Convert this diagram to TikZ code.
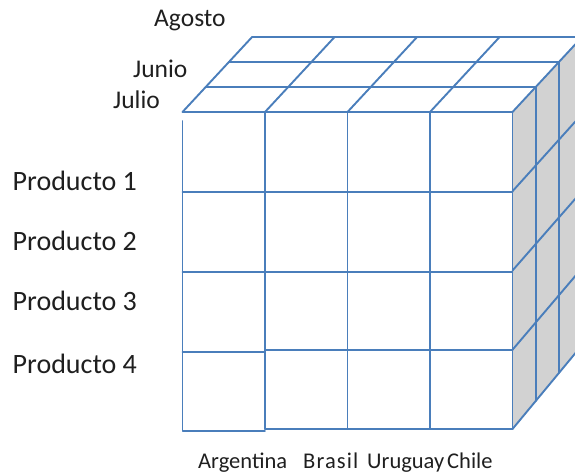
\documentclass[tikz,border=0pt]{standalone}
\usepackage{fontspec}
\setmainfont{Carlito}
\newfontfamily\widefont[LetterSpace=5]{Carlito}
\definecolor{cubeline}{RGB}{74,126,187}
\definecolor{sidegray}{RGB}{210,210,210}
\begin{document}
\begin{tikzpicture}[x=1pt,y=-1pt,
  gridline/.style={draw=cubeline,line width=1.9pt,line cap=round,line join=round},
  prodlabel/.style={anchor=base west,inner sep=0pt,font=\fontsize{28}{31}\selectfont,text=black!88},
  monthlabel/.style={anchor=base west,inner sep=0pt,font=\fontsize{25.5}{29}\selectfont,text=black!88},
  countrylabel/.style={anchor=base west,inner sep=0pt,font=\fontsize{22.5}{27}\selectfont,text=black!88}]
\useasboundingbox (0,0) rectangle (575,475);
\clip (0,0) rectangle (575,475);
% right face
\fill[sidegray] (512.5,112) -- (582.1,37) -- (582.1,345) -- (512.5,429) -- cycle;
\foreach \k in {1,2,3}{
  \draw[gridline] ({512.5+23.2*\k},{112-25*\k}) -- ({512.5+23.2*\k},{429-28*\k});
}
\foreach \i in {1,2,3,4}{
  \draw[gridline] (512.5,{112+\i*317/4}) -- (582.1,{37+\i*308/4});
}
% top face
\foreach \k in {0,1,2,3}{
  \draw[gridline] ({182.5+23.2*\k},{112-25*\k}) -- ({512.5+23.2*\k},{112-25*\k});
}
\foreach \x in {182.5,265,347.5,430,512.5}{
  \draw[gridline] (\x,112) -- ({\x+69.6},37);
}
% front face
\foreach \x in {265,347.5,430,512.5}{
  \draw[gridline] (\x,112) -- (\x,429);
}
\draw[gridline] (182.5,121) -- (182.5,431) -- (265,431);
\draw[gridline] (182.5,192) -- (512.5,192);
\draw[gridline] (182.5,272) -- (512.5,272);
\draw[gridline] (182.5,352) -- (265,352);
\draw[gridline] (265,350) -- (512.5,350);
\draw[gridline] (265,429) -- (512.5,429);
% labels
\node[monthlabel] (agosto) at (154,26) {Agosto};
\node[monthlabel] (junio) at (133,77) {Junio};
\node[monthlabel] (julio) at (113,108) {Julio};
\node[prodlabel] (p1) at (12.5,190) {Producto 1};
\node[prodlabel] (p2) at (12.5,250) {Producto 2};
\node[prodlabel] (p3) at (12.5,310) {Producto 3};
\node[prodlabel] (p4) at (12.5,373) {Producto 4};
\node[countrylabel] (arg) at (198,468) {Argentina};
\node[countrylabel,font=\widefont\fontsize{22.5}{27}\selectfont] (bra) at (303,468) {Brasil};
\node[countrylabel] (uru) at (367,468) {Uruguay};
\node[countrylabel] (chi) at (447,468) {Chile};
\end{tikzpicture}
\end{document}
